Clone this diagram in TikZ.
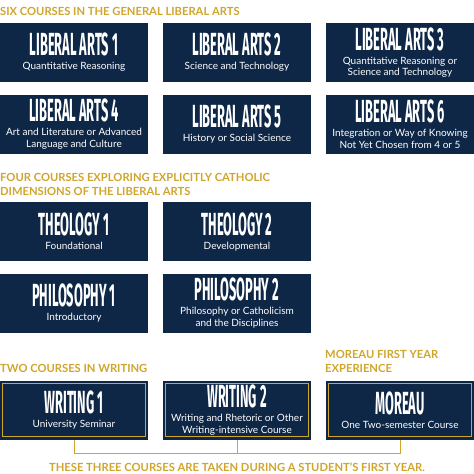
\documentclass[tikz,border=0pt]{standalone}
\usepackage{fontspec}
\setmainfont{Lato}
\newfontfamily\titlefont[FakeStretch=0.4]{Fira Sans}
\usetikzlibrary{calc}
\definecolor{navy}{HTML}{0E2747}
\definecolor{gold}{HTML}{CFA52C}
\tikzset{
	course/.style={fill=navy, minimum width=148pt, minimum height=59pt, inner sep=0pt, text=white, align=center, font=\fontsize{10}{11.5}\selectfont},
	head/.style={text=gold, anchor=west, align=left, inner sep=0pt, font=\bfseries\fontsize{11.2}{14}\selectfont},
	frame/.style={gold, line width=1.2pt},
}
\newcommand{\ctitle}[1]{{\titlefont\bfseries\fontsize{32}{32}\selectfont #1}\\[2.5pt]}

\begin{document}
\begin{tikzpicture}[x=1pt,y=-1pt]
	\useasboundingbox (0,0) rectangle (474,474);
	% liberal arts
	\node[head] (h1) at (0,11) {SIX COURSES IN THE GENERAL LIBERAL ARTS};
	\node[course] (la1) at (74,52.5)  {\ctitle{LIBERAL ARTS 1}Quantitative Reasoning};
	\node[course] (la2) at (237,52.5) {\ctitle{LIBERAL ARTS 2}Science and Technology};
	\node[course] (la3) at (400,52.5) {\ctitle{LIBERAL ARTS 3}Quantitative Reasoning or\\Science and Technology};
	\node[course] (la4) at (74,124)   {\ctitle{LIBERAL ARTS 4}Art and Literature or Advanced\\Language and Culture};
	\node[course] (la5) at (237,124)  {\ctitle{LIBERAL ARTS 5}History or Social Science};
	\node[course] (la6) at (400,124)  {\ctitle{LIBERAL ARTS 6}Integration or Way of Knowing\\Not Yet Chosen from 4 or 5};

	% catholic dimensions
	\node[head] (h2) at (0,184) {FOUR COURSES EXPLORING EXPLICITLY CATHOLIC\\DIMENSIONS OF THE LIBERAL ARTS};
	\node[course] (th1) at (74,231.5)  {\ctitle{THEOLOGY 1}Foundational};
	\node[course] (th2) at (237,231.5) {\ctitle{THEOLOGY 2}Developmental};
	\node[course] (ph1) at (74,303)    {\ctitle{PHILOSOPHY 1}Introductory};
	\node[course] (ph2) at (237,303)   {\ctitle{PHILOSOPHY 2}Philosophy or Catholicism\\and the Disciplines};

	% first year
	\node[head] (h3) at (0,368) {TWO COURSES IN WRITING};
	\node[head] (h4) at (325,361.5) {MOREAU FIRST YEAR\\EXPERIENCE};
	\node[course] (wr1) at (74,410)  {\ctitle{WRITING 1}University Seminar};
	\node[course] (wr2) at (237,410) {\ctitle{WRITING 2}Writing and Rhetoric or Other\\Writing-intensive Course};
	\node[course] (mor) at (400,410) {\ctitle{MOREAU}One Two-semester Course};
	\draw[frame] ($(wr1.south west)+(3,-3)$) rectangle ($(wr1.north east)+(-3,3)$);
	\draw[frame] ($(wr2.south west)+(3,-3)$) rectangle ($(wr2.north east)+(-3,3)$);
	\draw[frame] ($(mor.south west)+(3,-3)$) rectangle ($(mor.north east)+(-3,3)$);

	\coordinate (fy) at (237,453);
	\draw[gold, line width=1pt] (wr1.south) -- (wr1.south |- fy) -- (mor.south |- fy) -- (mor.south);
	\draw[gold, line width=1pt] (wr2.south) -- (wr2.south |- fy);
	\node[head, anchor=center] (h5) at (237,467) {THESE THREE COURSES ARE TAKEN DURING A STUDENT'S FIRST YEAR.};
\end{tikzpicture}
\end{document}
